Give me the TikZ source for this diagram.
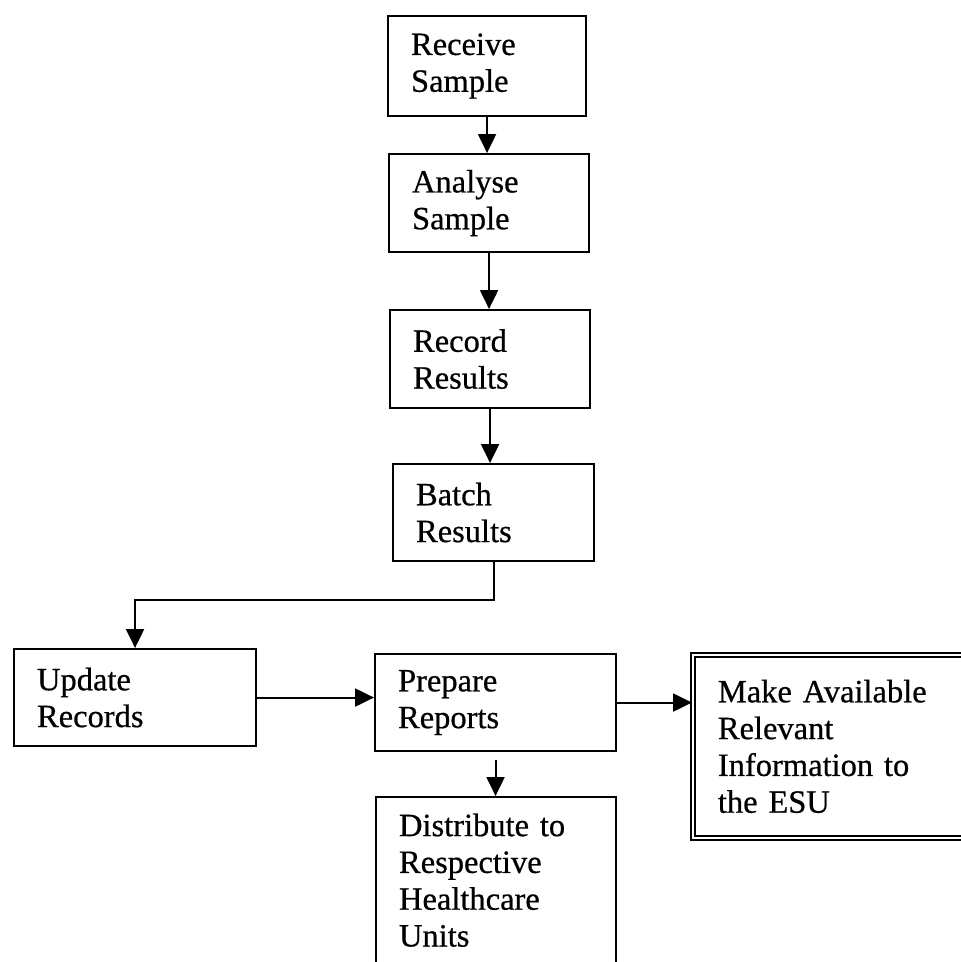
\documentclass[tikz,border=0pt]{standalone}
\usepackage{fontspec}
\setmainfont{Liberation Serif}[FakeBold=0.6]
\usetikzlibrary{arrows.meta}
\begin{document}
\begin{tikzpicture}[x=1pt,y=-1pt,
  stepbox/.style={draw, line width=2.1pt, anchor=north west, align=left,
    inner xsep=23pt, inner ysep=0pt, font=\fontsize{32.5}{36.8}\selectfont},
  flow/.style={line width=2.1pt, -{Triangle[length=19pt,width=18pt]}},
]
% page frame
\useasboundingbox (0,0) rectangle (961,962);
\fill[white] (0,0) rectangle (961,962);
\clip (0,0) rectangle (961,962);

% process steps
\node[stepbox, minimum width=198pt, minimum height=100pt, text width=152pt] (rec) at (387,15) {Receive\\Sample};
\node[stepbox, minimum width=200pt, minimum height=98pt, text width=154pt] (ana) at (388,153) {Analyse\\Sample};
\node[stepbox, minimum width=200pt, minimum height=98pt, text width=154pt] (rcd) at (389,309) {Record\\Results};
\node[stepbox, minimum width=201pt, minimum height=97pt, text width=155pt] (bat) at (392,463) {Batch\\Results};
\node[stepbox, minimum width=242pt, minimum height=97pt, text width=196pt] (upd) at (13,648) {Update\\Records};
\node[stepbox, minimum width=241pt, minimum height=97pt, text width=195pt] (pre) at (374,653) {Prepare\\Reports};
\node[stepbox, double, double distance=2.2pt, line width=1.8pt, inner xsep=25pt,
      minimum width=290pt, minimum height=183pt, text width=240pt] (mk) at (692,654)
      {Make Available\\Relevant\\Information to\\the ESU};
\node[stepbox, inner ysep=16.5pt, text width=194pt, text depth=180pt] (dis) at (375,796)
      {Distribute to\\Respective\\Healthcare\\Units};

% connectors
\draw[flow] (rec.south) -- (rec.south |- ana.north);
\draw[flow] (ana.south) -- (ana.south |- rcd.north);
\draw[flow] (rcd.south) -- (rcd.south |- bat.north);
\draw[flow] (bat.south) -- ++(0,38) -| (upd.north);
\draw[flow] (upd.east) -- (upd.east -| pre.west);
\draw[flow] (pre.east) -- (pre.east -| mk.west);
\draw[flow] ([yshift=-8pt]pre.south) -- (pre.south |- dis.north);
\end{tikzpicture}
\end{document}
